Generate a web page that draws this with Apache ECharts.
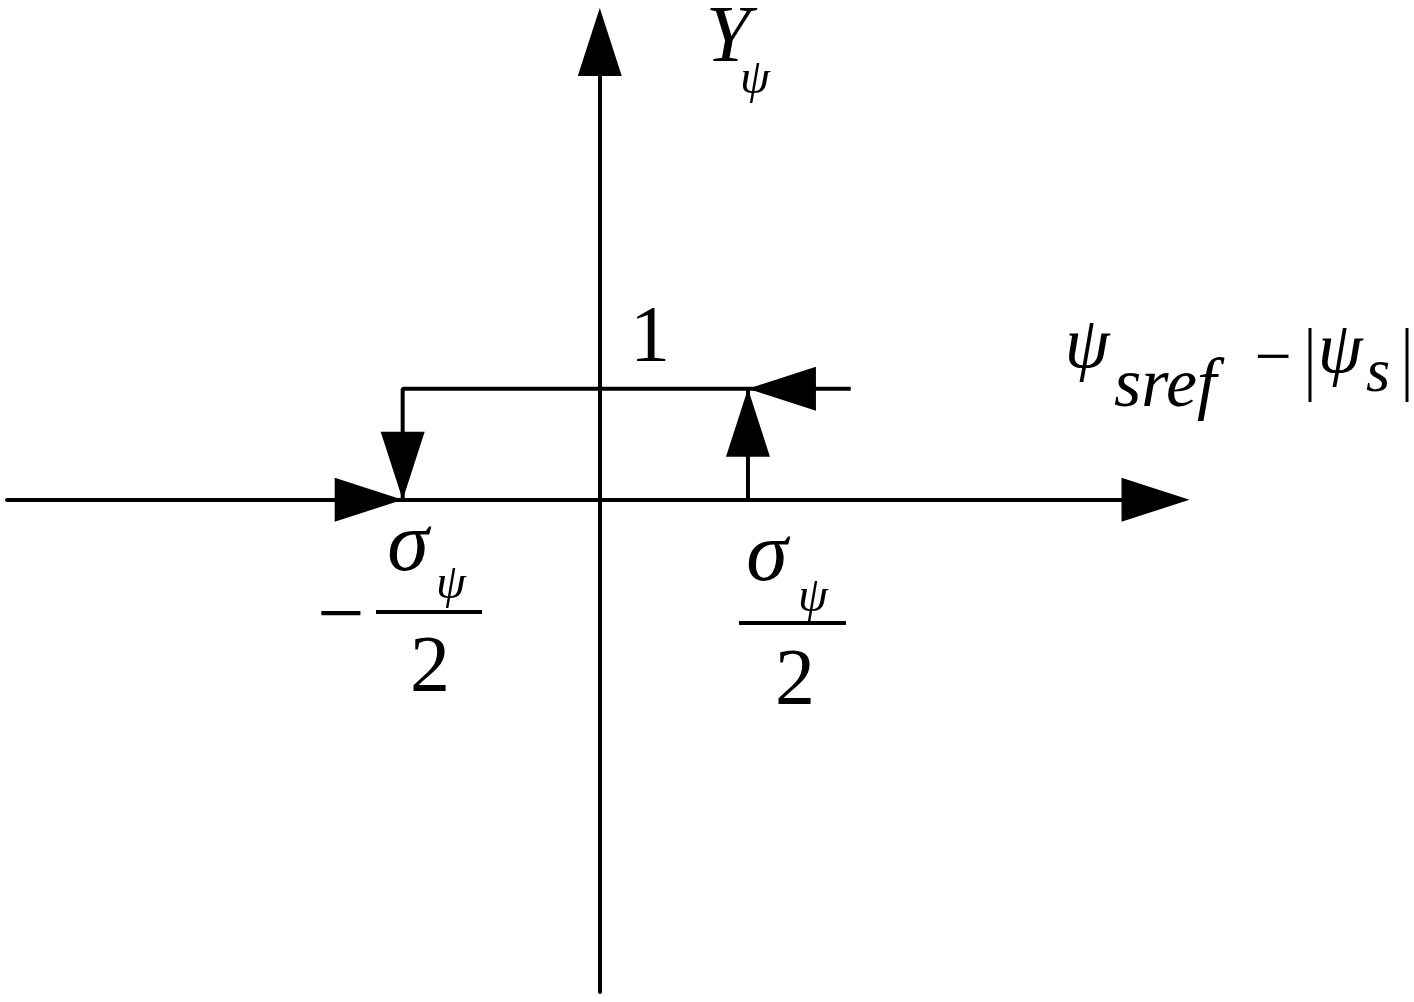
<!DOCTYPE html>
<html>
<head>
<meta charset="utf-8">
<style>
  html, body { margin: 0; padding: 0; background: #fff; }
  #chart { width: 1414px; height: 1002px; }
</style>
<script src="https://cdn.jsdelivr.net/npm/echarts@6/dist/echarts.min.js"></script>
</head>
<body>
<div id="chart"></div>
<script>
(function () {
  "use strict";

  // ── Data (axis units: sigma/2 = 1, output level = 1) ──
  var X_RANGE = [-4, 3.75];
  var Y_RANGE = [-4.43, 4.12];
  var LOW_THRESHOLD = -1.33;   // drawn at -sigma/2
  var HIGH_THRESHOLD = 1;      // sigma/2
  var INPUT_START = 1.68;

  // upper branch: comes in from the right, runs left, drops at the low threshold
  var upperBranchX = [INPUT_START, HIGH_THRESHOLD, LOW_THRESHOLD, LOW_THRESHOLD];
  var upperBranchY = [1, 1, 1, 0];
  // rising edge at the high threshold
  var risingEdgeX = [HIGH_THRESHOLD, HIGH_THRESHOLD];
  var risingEdgeY = [0, 1];
  // arrow tips and where they point
  var arrowX = [LOW_THRESHOLD, LOW_THRESHOLD, HIGH_THRESHOLD, HIGH_THRESHOLD];
  var arrowY = [0, 0, 1, 1];
  var arrowDir = ["right", "down", "up", "left"];

  var INK = "#000";
  var LINE_W = 4;
  var ARROW_W = 44;
  var ARROW_L = 68;
  var FONT = "Liberation Serif";

  var DIRS = {
    up:    { rot: 0,   off: [0, ARROW_L / 2] },
    down:  { rot: 180, off: [0, -ARROW_L / 2] },
    left:  { rot: 90,  off: [ARROW_L / 2, 0] },
    right: { rot: -90, off: [-ARROW_L / 2, 0] }
  };

  function pairs(xs, ys) {
    var out = [];
    for (var i = 0; i < xs.length; i++) out.push([xs[i], ys[i]]);
    return out;
  }

  var arrowData = [];
  for (var i = 0; i < arrowX.length; i++) {
    var d = DIRS[arrowDir[i]];
    arrowData.push({
      value: [arrowX[i], arrowY[i]],
      symbolRotate: d.rot,
      symbolOffset: d.off
    });
  }

  var axisCommon = {
    type: "value",
    axisLine: {
      show: true,
      onZero: true,
      symbol: ["none", "triangle"],
      symbolSize: [ARROW_W, ARROW_L],
      lineStyle: { color: INK, width: LINE_W }
    },
    axisTick: { show: false },
    axisLabel: { show: false },
    splitLine: { show: false }
  };

  var chart = echarts.init(document.getElementById("chart"), null, { renderer: "canvas" });

  chart.setOption({
    animation: false,
    backgroundColor: "#fff",
    grid: { left: 7, right: 258.5, top: 42, bottom: 10, outerBoundsMode: "none" },
    xAxis: Object.assign({}, axisCommon, { min: X_RANGE[0], max: X_RANGE[1] }),
    yAxis: Object.assign({}, axisCommon, { min: Y_RANGE[0], max: Y_RANGE[1] }),
    series: [
      {
        type: "line",
        data: pairs(upperBranchX, upperBranchY),
        showSymbol: false,
        lineStyle: { color: INK, width: LINE_W, cap: "square" },
        z: 3
      },
      {
        type: "line",
        data: pairs(risingEdgeX, risingEdgeY),
        showSymbol: false,
        lineStyle: { color: INK, width: LINE_W },
        z: 3
      },
      {
        type: "scatter",
        symbol: "triangle",
        symbolSize: [ARROW_W, ARROW_L],
        itemStyle: { color: INK, opacity: 1 },
        data: arrowData,
        z: 5
      }
    ]
  });

  // ── Text annotations ──
  function text(str, x, y, size, italic, align) {
    return {
      type: "text",
      x: x,
      y: y,
      z: 10,
      style: {
        text: str,
        fill: INK,
        fontFamily: FONT,
        fontSize: size,
        fontStyle: italic ? "italic" : "normal",
        align: align || "center",
        verticalAlign: "middle"
      }
    };
  }

  function bar(x1, x2, y, w) {
    return {
      type: "line",
      z: 10,
      shape: { x1: x1, y1: y, x2: x2, y2: y },
      style: { stroke: INK, lineWidth: w || 4 }
    };
  }

  function vbar(x, y1, y2) {
    return {
      type: "line",
      z: 10,
      shape: { x1: x, y1: y1, x2: x, y2: y2 },
      style: { stroke: INK, lineWidth: 3 }
    };
  }

  chart.setOption({
    graphic: [
      // y-axis name
      text("Y", 728, 40, 80, true),
      text("\u03C8", 755, 80, 48, true),
      // level 1
      text("1", 650, 340, 80, false),
      // x-axis name: psi_sref - |psi_s|
      text("\u03C8", 1087, 348, 72, true),
      text("sref", 1114, 388, 70, true, "left"),
      text("\u2212", 1273, 361, 66, false),
      vbar(1310, 328, 402),
      text("\u03C8", 1340, 353, 72, true),
      text("s", 1378, 375, 62, true),
      vbar(1407, 328, 402),
      // -sigma/2
      text("\u2212", 341, 619, 84, false),
      text("\u03C3", 408, 548, 84, true),
      text("\u03C8", 451, 585, 48, true),
      bar(376, 482, 612),
      text("2", 430, 670, 80, false),
      // sigma/2
      text("\u03C3", 767, 558, 84, true),
      text("\u03C8", 813, 598, 48, true),
      bar(739, 846, 623),
      text("2", 795, 683, 80, false)
    ]
  });
})();
</script>
</body>
</html>
